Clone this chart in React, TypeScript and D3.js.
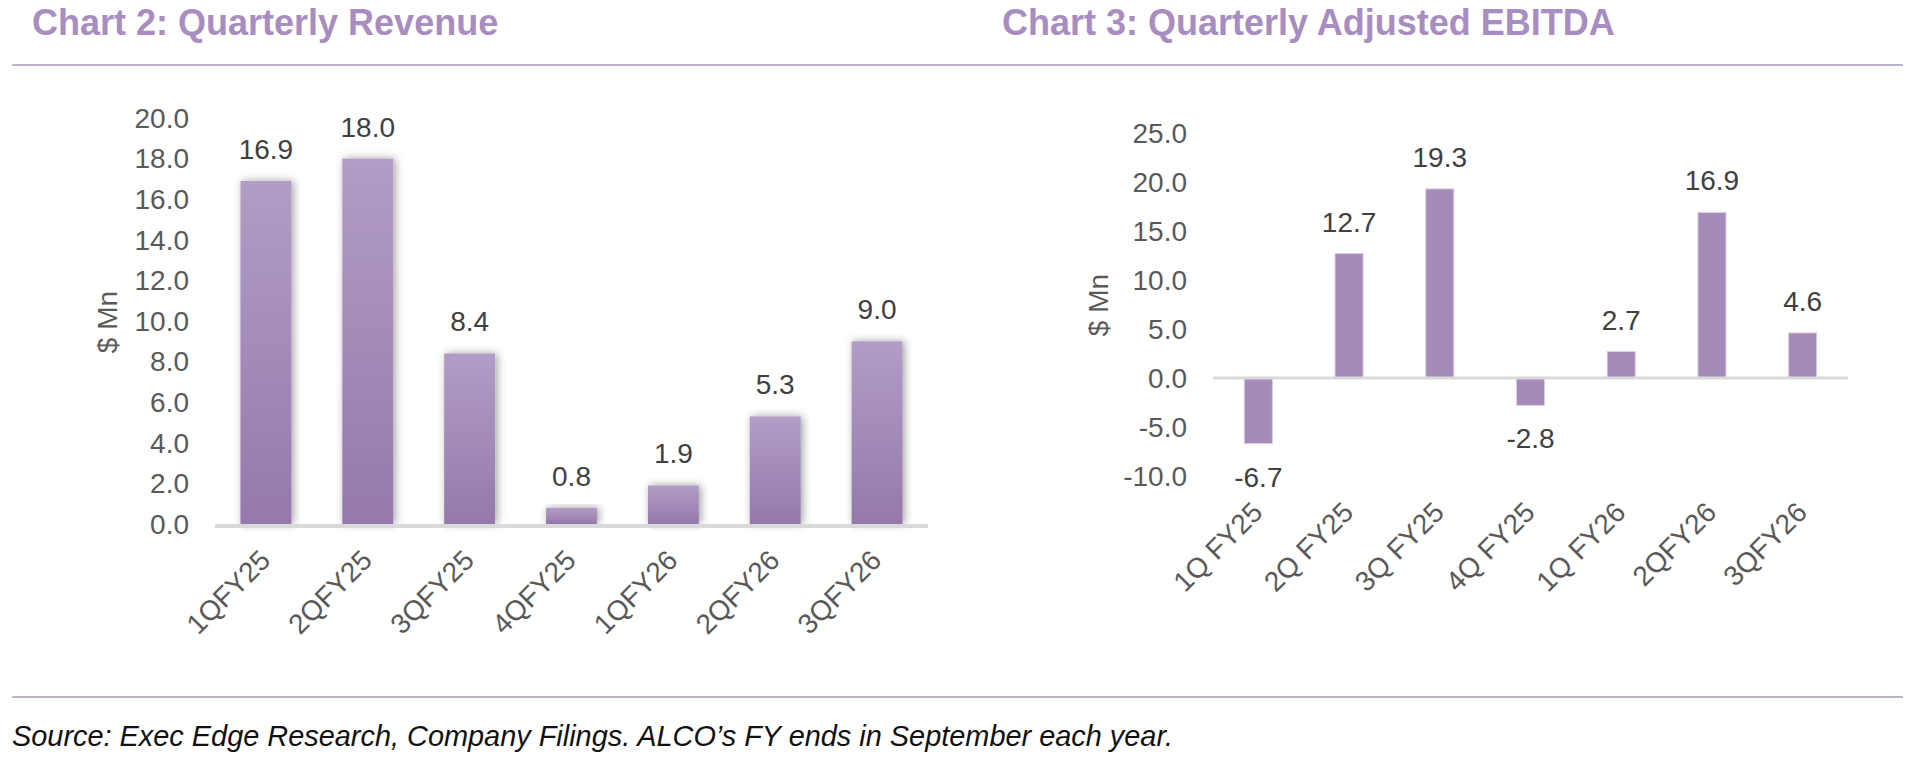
import React from 'react';
import * as d3 from 'd3';

// chart 2 - quarterly revenue ($ Mn)
const revenueQuarters = ['1QFY25', '2QFY25', '3QFY25', '4QFY25', '1QFY26', '2QFY26', '3QFY26'];
const revenueValues = [16.9, 18.0, 8.4, 0.8, 1.9, 5.3, 9.0];
const revenueTicks = [0, 2, 4, 6, 8, 10, 12, 14, 16, 18, 20];

// chart 3 - quarterly adjusted EBITDA ($ Mn)
const ebitdaQuarters = ['1Q FY25', '2Q FY25', '3Q FY25', '4Q FY25', '1Q FY26', '2QFY26', '3QFY26'];
const ebitdaValues = [-6.7, 12.7, 19.3, -2.8, 2.7, 16.9, 4.6];
const ebitdaTicks = [-10, -5, 0, 5, 10, 15, 20, 25];

const W = 1919;
const H = 760;
const FONT = '"Liberation Sans", Arial, sans-serif';
const TITLE = '#A88DC0';
const RULE = '#A899B9';
const TICK = '#595959';
const LABEL = '#404040';
// plain hyphen for negatives, like the excel original
const fmt = d3.formatLocale({ decimal: '.', thousands: ',', grouping: [3], currency: ['$', ''], minus: '-' }).format('.1f');

export default function App() {
  // left chart scales
  const xL = d3.scaleBand<string>().domain(revenueQuarters).range([215, 928]).paddingInner(0.5).paddingOuter(0.25);
  const yL = d3.scaleLinear().domain([0, 20]).range([524, 118]);

  // right chart scales
  const xR = d3.scaleBand<string>().domain(ebitdaQuarters).range([1213, 1848]).paddingInner(0.69).paddingOuter(0.345);
  const yR = d3.scaleLinear().domain([-10, 25]).range([476, 133]);

  return (
    <svg width={W} height={H} style={{ position: 'absolute', left: 0, top: 0, background: '#fff' }} fontFamily={FONT}>
      <defs>
        <linearGradient id="barGrad" x1="0" y1="0" x2="0" y2="1">
          <stop offset="0" stopColor="#B19DC6" />
          <stop offset="1" stopColor="#9678AC" />
        </linearGradient>
        <filter id="barShadow" x="-50%" y="-20%" width="200%" height="140%">
          <feDropShadow dx="2" dy="0" stdDeviation="4" floodColor="#000" floodOpacity="0.38" />
        </filter>
      </defs>

      {/* titles and rules */}
      <text x={32} y={35} fontSize={36} fontWeight="bold" fill={TITLE}>Chart 2: Quarterly Revenue</text>
      <text x={1002} y={35} fontSize={36} fontWeight="bold" fill={TITLE}>Chart 3: Quarterly Adjusted EBITDA</text>
      <line x1={12} x2={1903} y1={65} y2={65} stroke={RULE} strokeWidth={1.5} />
      <line x1={12} x2={1903} y1={697} y2={697} stroke={RULE} strokeWidth={1.5} />
      <text x={12} y={746} fontSize={28.9} fontStyle="italic" fill="#111">
        Source: Exec Edge Research, Company Filings. ALCO’s FY ends in September each year.
      </text>

      {/* ---- chart 2 ---- */}
      <text transform="translate(107,322) rotate(-90)" textAnchor="middle" dominantBaseline="central" fontSize={28} fill={TICK}>$ Mn</text>
      {revenueTicks.map(t => (
        <text key={t} x={189} y={yL(t)} dy="0.35em" textAnchor="end" fontSize={28} fill={TICK}>{fmt(t)}</text>
      ))}
      {revenueValues.map((v, i) => (
        <rect key={i} x={xL(revenueQuarters[i])} y={yL(v)} width={xL.bandwidth()} height={yL(0) - yL(v)}
          fill="url(#barGrad)" filter="url(#barShadow)" />
      ))}
      <line x1={215} x2={928} y1={yL(0) + 2} y2={yL(0) + 2} stroke="#D9D9D9" strokeWidth={4} />
      {revenueValues.map((v, i) => (
        <text key={i} x={xL(revenueQuarters[i])! + xL.bandwidth() / 2} y={yL(v) - 22} textAnchor="middle" fontSize={28} fill={LABEL}>{fmt(v)}</text>
      ))}
      {revenueQuarters.map(q => (
        <text key={q} transform={`translate(${xL(q)! + xL.bandwidth() / 2 + 6},${yL(0) + 38}) rotate(-45)`}
          textAnchor="end" fontSize={28} fill={TICK}>{q}</text>
      ))}

      {/* ---- chart 3 ---- */}
      <text transform="translate(1098,305) rotate(-90)" textAnchor="middle" dominantBaseline="central" fontSize={28} fill={TICK}>$ Mn</text>
      {ebitdaTicks.map(t => (
        <text key={t} x={1187} y={yR(t)} dy="0.35em" textAnchor="end" fontSize={28} fill={TICK}>{fmt(t)}</text>
      ))}
      {ebitdaValues.map((v, i) => (
        <rect key={i} x={xR(ebitdaQuarters[i])} y={Math.min(yR(v), yR(0))} width={xR.bandwidth()}
          height={Math.abs(yR(v) - yR(0))} fill="#A68BBA" stroke="#DCD0E6" strokeWidth={1} />
      ))}
      <line x1={1213} x2={1848} y1={yR(0)} y2={yR(0)} stroke="#D9D9D9" strokeWidth={3} />
      {ebitdaValues.map((v, i) => (
        <text key={i} x={xR(ebitdaQuarters[i])! + xR.bandwidth() / 2} y={v >= 0 ? yR(v) - 22 : yR(v) + 43}
          textAnchor="middle" fontSize={28} fill={LABEL}>{fmt(v)}</text>
      ))}
      {ebitdaQuarters.map(q => (
        <text key={q} transform={`translate(${xR(q)! + xR.bandwidth() / 2 + 6},${yR(-10) + 38}) rotate(-45)`}
          textAnchor="end" fontSize={28} fill={TICK}>{q}</text>
      ))}
    </svg>
  );
}
